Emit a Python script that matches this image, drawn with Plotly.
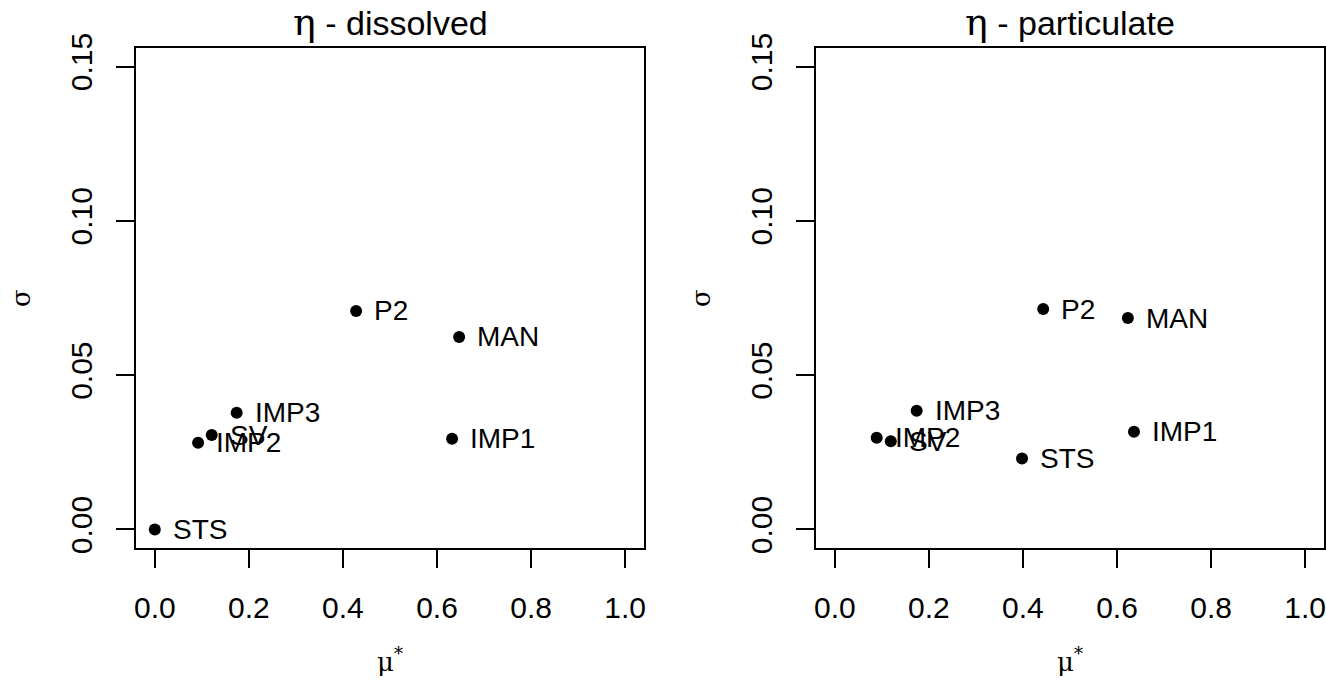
import plotly.graph_objects as go

factors = ["STS", "IMP2", "SV", "IMP3", "P2", "MAN", "IMP1"]
dissolved_mu = [0.0, 0.092, 0.121, 0.174, 0.428, 0.647, 0.632]
dissolved_sigma = [0.0, 0.0281, 0.0306, 0.0378, 0.0708, 0.0624, 0.0294]
particulate_mu = [0.398, 0.089, 0.119, 0.174, 0.443, 0.623, 0.636]
particulate_sigma = [0.0230, 0.0297, 0.0286, 0.0385, 0.0714, 0.0685, 0.0317]

x_ticks = [0.0, 0.2, 0.4, 0.6, 0.8, 1.0]
x_ticklabels = ["0.0", "0.2", "0.4", "0.6", "0.8", "1.0"]
y_ticks = [0.00, 0.05, 0.10, 0.15]
y_ticklabels = ["0.00", "0.05", "0.10", "0.15"]
titles = ["dissolved", "particulate"]

W, H = 1326, 680
FONT = "Liberation Sans, Arial, sans-serif"
GREEK = "DejaVu Serif, Liberation Serif, serif"

fig = go.Figure()

panels = [(dissolved_mu, dissolved_sigma), (particulate_mu, particulate_sigma)]
x_domains = [(136 / W, 644 / W), (816 / W, 1324 / W)]
y_domain = (1 - 548 / H, 1 - 48 / H)

for i, (mu, sg) in enumerate(panels):
    ax = "" if i == 0 else str(i + 1)
    fig.add_trace(go.Scatter(
        x=mu, y=sg, mode="markers",
        marker=dict(color="black", size=12),
        xaxis="x" + ax, yaxis="y" + ax, showlegend=False, hoverinfo="skip",
        cliponaxis=False,
    ))
    for name, xv, yv in zip(factors, mu, sg):
        fig.add_annotation(
            x=xv, y=yv, xref="x" + ax, yref="y" + ax, text=name,
            showarrow=False, xanchor="left", yanchor="middle", xshift=16,
            font=dict(family=FONT, size=28, color="black"),
        )
    common = dict(showline=True, linecolor="black", linewidth=2, mirror=True,
                  ticks="outside", ticklen=18, tickwidth=2, tickcolor="black",
                  showgrid=False, zeroline=False, automargin=False,
                  ticklabeloverflow="allow",
                  tickfont=dict(family=FONT, size=30, color="black"))
    fig.update_layout(**{
        "xaxis" + ax: dict(domain=list(x_domains[i]), range=[-0.04, 1.04],
                           tickvals=x_ticks, ticktext=x_ticklabels,
                           anchor="y" + ax, ticklabelstandoff=14, **common),
        "yaxis" + ax: dict(domain=list(y_domain), range=[-0.006, 0.156],
                           tickvals=y_ticks, ticktext=y_ticklabels,
                           anchor="x" + ax, tickangle=-90,
                           ticklabelstandoff=12, **common),
    })
    cx = (x_domains[i][0] + x_domains[i][1]) / 2
    fig.add_annotation(
        x=cx, y=1 - 22 / H, xref="paper", yref="paper", showarrow=False,
        xanchor="center", yanchor="middle",
        text='<span style="font-family:' + GREEK + ';font-size:38px">η</span> - ' + titles[i],
        font=dict(family=FONT, size=34, color="black"),
    )
    fig.add_annotation(
        x=cx, y=1 - 660 / H, xref="paper", yref="paper", showarrow=False,
        xanchor="center", yanchor="middle", text="μ<sup>*</sup>",
        font=dict(family=GREEK, size=26, color="black"),
    )
    fig.add_annotation(
        x=(21 if i == 0 else 701) / W, y=(y_domain[0] + y_domain[1]) / 2,
        xref="paper", yref="paper", showarrow=False, textangle=-90,
        xanchor="center", yanchor="middle", text="σ",
        font=dict(family=GREEK, size=26, color="black"),
    )

fig.update_layout(width=W, height=H, margin=dict(l=0, r=0, t=0, b=0),
                  paper_bgcolor="white", plot_bgcolor="white")
fig.write_html("out.html", config={"displayModeBar": False},
               post_script="document.body.style.margin='0';document.body.style.overflow='hidden';")
